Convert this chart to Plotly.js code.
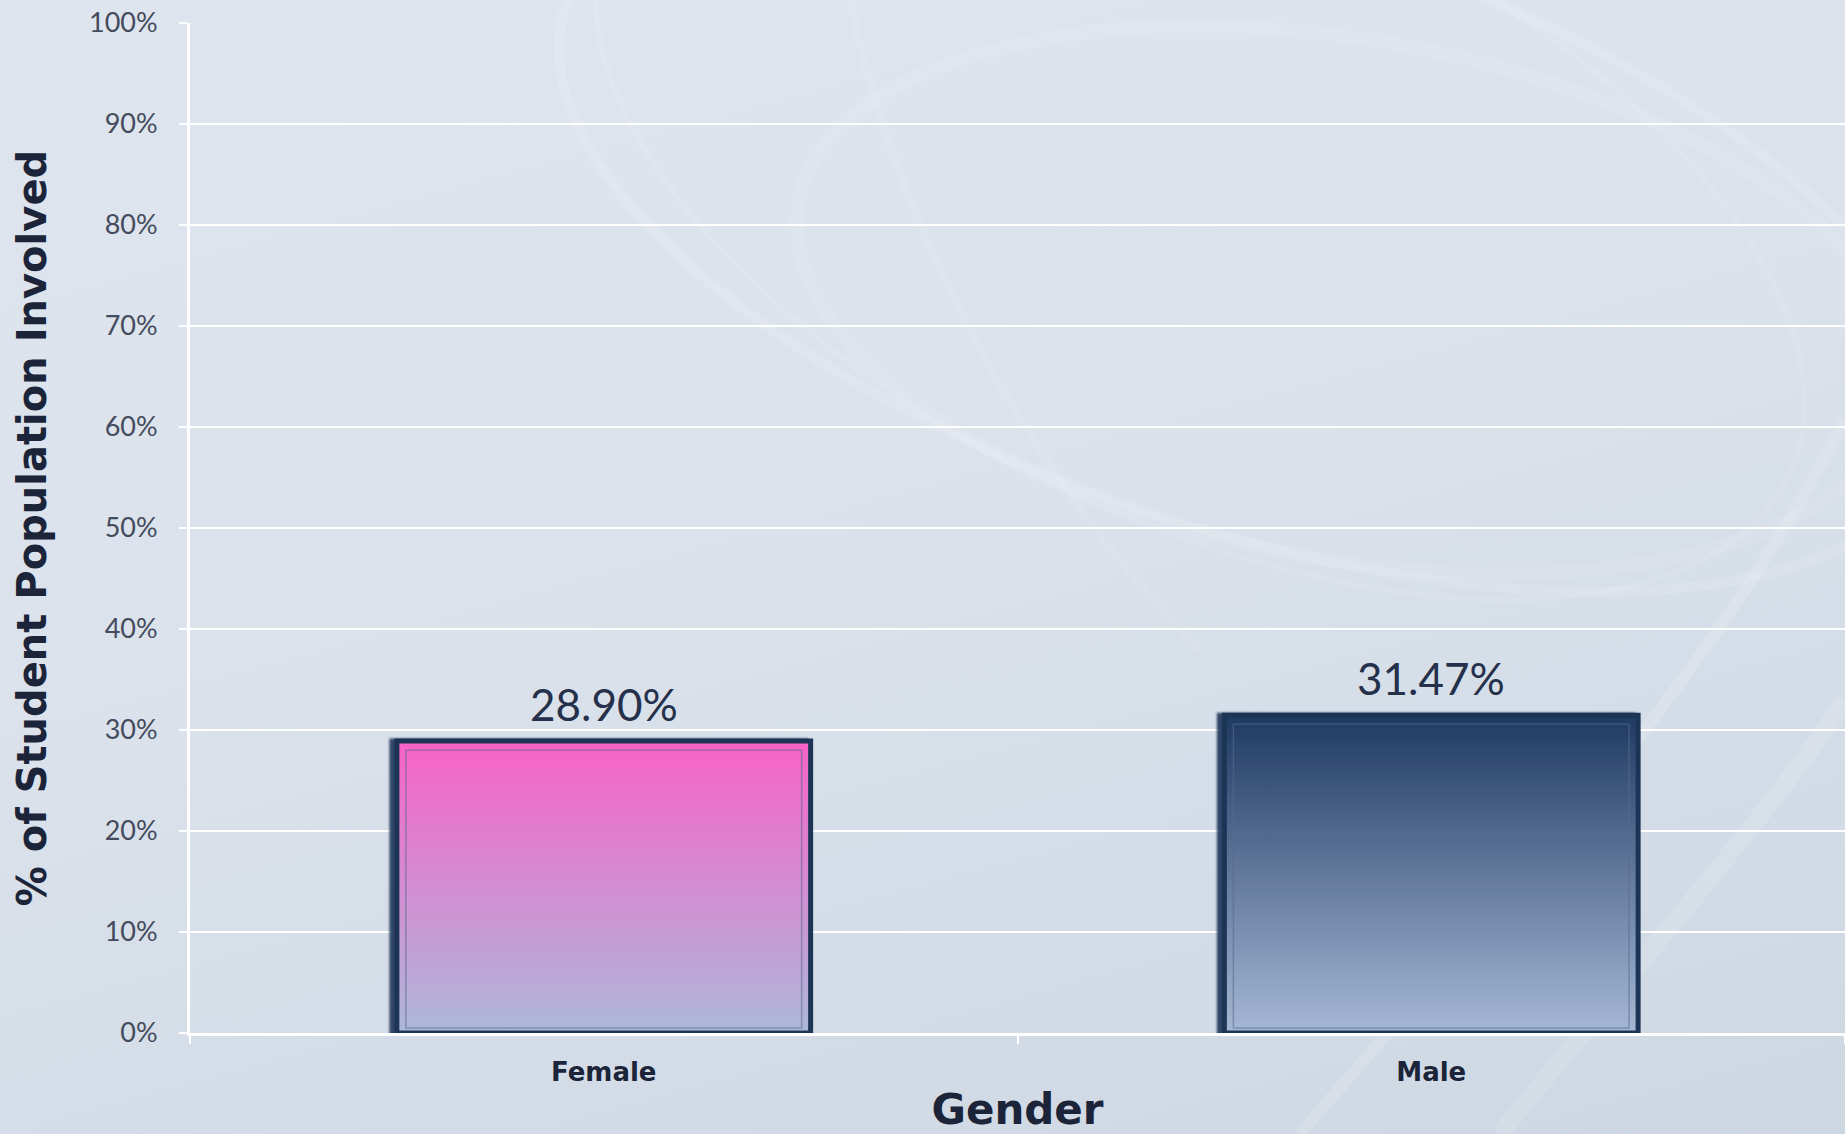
<!DOCTYPE html>
<html>
<head>
<meta charset="utf-8">
<script src="https://cdn.plot.ly/plotly-3.0.1.min.js"></script>
<style>
  html, body { margin: 0; padding: 0; width: 1845px; height: 1134px; overflow: hidden; }
  body { background: linear-gradient(165deg, #dfe5ee 0%, #dbe2ec 45%, #cdd7e2 100%); position: relative; }
  #bg { position: absolute; left: 0; top: 0; width: 1845px; height: 1134px; }
  #chart { position: absolute; left: 0; top: 0; width: 1845px; height: 1134px; }
</style>
</head>
<body>
<svg id="bg" width="1845" height="1134">
  <g fill="none" stroke="#ffffff">
    <ellipse cx="1250" cy="230" rx="720" ry="300" stroke-opacity="0.12" stroke-width="10" transform="rotate(18 1250 230)"/>
    <ellipse cx="1200" cy="200" rx="650" ry="320" stroke-opacity="0.09" stroke-width="6" transform="rotate(25 1200 200)"/>
    <ellipse cx="1350" cy="300" rx="560" ry="260" stroke-opacity="0.08" stroke-width="14" transform="rotate(10 1350 300)"/>
    <path d="M1300 1134 C 1500 900, 1700 700, 1845 420" stroke-opacity="0.15" stroke-width="12"/>
    <path d="M1500 1134 C 1650 950, 1780 800, 1845 700" stroke-opacity="0.12" stroke-width="18"/>
    <path d="M850 0 C 900 250, 1050 500, 1200 650" stroke-opacity="0.08" stroke-width="8"/>
  </g>
</svg>
<div id="chart"></div>
<script>
// Data
const categories = ["Female", "Male"];
const values = [28.90, 31.47];
const yTickValues = [0, 10, 20, 30, 40, 50, 60, 70, 80, 90, 100];
const yTickLabels = ["0%", "10%", "20%", "30%", "40%", "50%", "60%", "70%", "80%", "90%", "100%"];
const barColors = ["#e77fc9", "#4b6b90"];
const gradients = [
  { id: "gradFemale", top: "#f862c8", bottom: "#adb8d9" },
  { id: "gradMale", top: "#1f3a62", bottom: "#a5b8d5" }
];

const labelFont = "Lato, 'Open Sans', sans-serif";
const titleFont = "'DejaVu Sans', Lato, sans-serif";

const trace = {
  type: "bar",
  x: categories,
  y: values,
  marker: { color: barColors, line: { color: "#1f3656", width: 5 } },
  hoverinfo: "skip",
  cliponaxis: false
};

const annotations = categories.map((c, i) => ({
  x: c, y: values[i], xref: "x", yref: "y",
  text: values[i].toFixed(2) + "%",
  showarrow: false, yanchor: "middle", yshift: 37,
  font: { family: labelFont, size: 44, color: "#25304a" }
}));

const layout = {
  width: 1845, height: 1134,
  margin: { l: 190, r: 0, t: 23, b: 101 },
  paper_bgcolor: "rgba(0,0,0,0)",
  plot_bgcolor: "rgba(0,0,0,0)",
  bargap: 0.5,
  showlegend: false,
  xaxis: {
    type: "category",
    tickson: "boundaries",
    ticks: "outside", ticklen: 8, tickwidth: 2, tickcolor: "#ffffff",
    ticklabelstandoff: 14,
    showline: true, linecolor: "#ffffff", linewidth: 3,
    showgrid: false,
    tickfont: { family: titleFont, size: 26, color: "#1b2438", weight: "bold" },
    title: { text: "Gender", standoff: 18, font: { family: titleFont, size: 42, color: "#1b2438", weight: "bold" } }
  },
  yaxis: {
    range: [0, 100],
    tickvals: yTickValues, ticktext: yTickLabels,
    ticks: "outside", ticklen: 8, tickwidth: 2, tickcolor: "#ffffff",
    ticklabelstandoff: 16,
    showline: true, linecolor: "#ffffff", linewidth: 3,
    showgrid: true, gridcolor: "#ffffff", gridwidth: 2,
    zeroline: false,
    tickfont: { family: labelFont, size: 27, color: "#444b5c" },
    title: { text: "% of Student Population Involved", standoff: 30, font: { family: titleFont, size: 40, color: "#1b2438", weight: "bold" } }
  },
  annotations: annotations
};

Plotly.newPlot("chart", [trace], layout, { displayModeBar: false, staticPlot: true }).then(gd => {
  const svg = gd.querySelector(".main-svg");
  const ns = "http://www.w3.org/2000/svg";
  let defs = svg.querySelector("defs");
  if (!defs) { defs = document.createElementNS(ns, "defs"); svg.insertBefore(defs, svg.firstChild); }
  gradients.forEach(g => {
    const lg = document.createElementNS(ns, "linearGradient");
    lg.setAttribute("id", g.id);
    lg.setAttribute("x1", "0"); lg.setAttribute("y1", "0");
    lg.setAttribute("x2", "0"); lg.setAttribute("y2", "1");
    const s1 = document.createElementNS(ns, "stop");
    s1.setAttribute("offset", "0"); s1.setAttribute("stop-color", g.top);
    const s2 = document.createElementNS(ns, "stop");
    s2.setAttribute("offset", "1"); s2.setAttribute("stop-color", g.bottom);
    lg.appendChild(s1); lg.appendChild(s2); defs.appendChild(lg);
  });
  const f = document.createElementNS(ns, "filter");
  f.setAttribute("id", "barShadow");
  f.setAttribute("x", "-10%"); f.setAttribute("y", "-10%");
  f.setAttribute("width", "120%"); f.setAttribute("height", "120%");
  const ds = document.createElementNS(ns, "feDropShadow");
  ds.setAttribute("dx", "-5"); ds.setAttribute("dy", "0");
  ds.setAttribute("stdDeviation", "1.2");
  ds.setAttribute("flood-color", "#1f3656"); ds.setAttribute("flood-opacity", "0.9");
  f.appendChild(ds); defs.appendChild(f);
  const paths = gd.querySelectorAll(".barlayer .point path");
  paths.forEach((p, i) => {
    p.style.fill = "url(#" + gradients[i].id + ")";
    p.style.filter = "url(#barShadow)";
    // thin inner bevel line inside each bar
    const bb = p.getBBox();
    const r = document.createElementNS(ns, "rect");
    const inset = 9;
    r.setAttribute("x", bb.x + inset); r.setAttribute("y", bb.y + inset);
    r.setAttribute("width", Math.max(0, bb.width - 2 * inset));
    r.setAttribute("height", Math.max(0, bb.height - inset - 5));
    r.setAttribute("fill", "none");
    r.setAttribute("stroke", "rgba(90,105,140,0.55)");
    r.setAttribute("stroke-width", "1.5");
    p.parentNode.appendChild(r);
  });
});
</script>
</body>
</html>
